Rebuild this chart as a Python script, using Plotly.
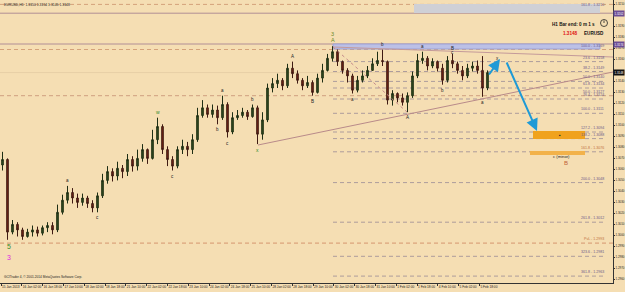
import plotly.graph_objects as go

# ---------------- data ----------------
first_open = 1.3064
close = [1.3069, 1.3003, 1.3010, 1.3005, 1.2999, 1.3003, 1.3005, 1.3002, 1.3007, 1.3009,
         1.3005, 1.3021, 1.3032, 1.3039, 1.3034, 1.3030, 1.3034, 1.3029, 1.3025, 1.3036,
         1.3050, 1.3058, 1.3054, 1.3061, 1.3058, 1.3069, 1.3063, 1.3070, 1.3078, 1.3070,
         1.3087, 1.3099, 1.3078, 1.3069, 1.3063, 1.3078, 1.3081, 1.3078, 1.3087, 1.3109,
         1.3116, 1.3110, 1.3114, 1.3107, 1.3119, 1.3094, 1.3107, 1.3109, 1.3112, 1.3108,
         1.3116, 1.3092, 1.3105, 1.3134, 1.3138, 1.3141, 1.3136, 1.3152, 1.3147, 1.3141,
         1.3136, 1.3139, 1.3130, 1.3143, 1.3150, 1.3161, 1.3167, 1.3158, 1.3150, 1.3145,
         1.3132, 1.3141, 1.3145, 1.3150, 1.3156, 1.3159, 1.3158, 1.3123, 1.3129, 1.3125,
         1.3121, 1.3127, 1.3145, 1.3159, 1.3161, 1.3154, 1.3158, 1.3152, 1.3141, 1.3159,
         1.3156, 1.3150, 1.3145, 1.3152, 1.3154, 1.3150, 1.3134, 1.3148]
high = [1.3076, 1.3070, 1.3014, 1.3012, 1.3007, 1.3006, 1.3009, 1.3008, 1.3009, 1.3012,
        1.3012, 1.3028, 1.3037, 1.3045, 1.3043, 1.3038, 1.3038, 1.3036, 1.3032, 1.3039,
        1.3056, 1.3063, 1.3061, 1.3067, 1.3064, 1.3074, 1.3072, 1.3078, 1.3083, 1.3079,
        1.3096, 1.3107, 1.3101, 1.3081, 1.3072, 1.3081, 1.3087, 1.3085, 1.3092, 1.3116,
        1.3123, 1.3119, 1.3119, 1.3118, 1.3127, 1.3121, 1.3112, 1.3114, 1.3116, 1.3114,
        1.3119, 1.3118, 1.3112, 1.3138, 1.3143, 1.3147, 1.3143, 1.3156, 1.3158, 1.3150,
        1.3143, 1.3145, 1.3141, 1.3147, 1.3156, 1.3165, 1.3172, 1.3169, 1.3159, 1.3152,
        1.3147, 1.3145, 1.3150, 1.3154, 1.3161, 1.3167, 1.3169, 1.3159, 1.3132, 1.3130,
        1.3129, 1.3130, 1.3149, 1.3165, 1.3167, 1.3163, 1.3161, 1.3159, 1.3156, 1.3163,
        1.3165, 1.3158, 1.3154, 1.3156, 1.3158, 1.3159, 1.3163, 1.3150]
low = [1.3059, 1.2996, 1.3001, 1.2999, 1.2996, 1.2998, 1.2999, 1.2999, 1.3000, 1.3003,
       1.3001, 1.3003, 1.3019, 1.3029, 1.3029, 1.3025, 1.3027, 1.3025, 1.3021, 1.3021,
       1.3034, 1.3047, 1.3049, 1.3050, 1.3052, 1.3054, 1.3058, 1.3059, 1.3067, 1.3065,
       1.3069, 1.3083, 1.3074, 1.3063, 1.3059, 1.3061, 1.3074, 1.3072, 1.3074, 1.3085,
       1.3107, 1.3107, 1.3107, 1.3101, 1.3105, 1.3089, 1.3092, 1.3105, 1.3107, 1.3105,
       1.3107, 1.3083, 1.3087, 1.3103, 1.3130, 1.3134, 1.3132, 1.3134, 1.3143, 1.3138,
       1.3132, 1.3134, 1.3127, 1.3129, 1.3139, 1.3149, 1.3158, 1.3154, 1.3147, 1.3139,
       1.3129, 1.3130, 1.3139, 1.3143, 1.3150, 1.3154, 1.3154, 1.3119, 1.3118, 1.3121,
       1.3118, 1.3112, 1.3125, 1.3143, 1.3156, 1.3150, 1.3152, 1.3149, 1.3137, 1.3139,
       1.3152, 1.3147, 1.3141, 1.3143, 1.3149, 1.3147, 1.3126, 1.3132]
open_ = [first_open] + close[:-1]
bars = list(range(len(close)))

time_labels = ["15 Jan 2013", "16 Jan 02:00", "16 Jan 18:00", "17 Jan 10:00", "18 Jan 02:00",
               "18 Jan 18:00", "21 Jan 10:00", "22 Jan 02:00", "22 Jan 18:00", "23 Jan 10:00",
               "24 Jan 02:00", "24 Jan 18:00", "25 Jan 10:00", "28 Jan 02:00", "28 Jan 18:00",
               "29 Jan 10:00", "30 Jan 02:00", "30 Jan 18:00", "31 Jan 10:00", "1 Feb 02:00",
               "1 Feb 18:00", "4 Feb 10:00", "5 Feb 02:00", "5 Feb 18:00"]

# price-axis tick labels (those hidden under the price boxes are left out)
price_ticks = [1.2960, 1.2970, 1.2980, 1.2990, 1.3000, 1.3010, 1.3020, 1.3030, 1.3040,
               1.3050, 1.3060, 1.3070, 1.3080, 1.3090, 1.3100, 1.3110, 1.3120, 1.3130,
               1.3140, 1.3160, 1.3170, 1.3180, 1.3190, 1.3210]

# full-width horizontal levels: (price, dash, colour, label)
full_levels = [(1.3210, "dash", "#d4a27a", "161.8 - 1.3210"),
               (1.3202, "solid", "#b08e96", ""),
               (1.3174, "solid", "#b08e96", ""),
               (1.3169, "dash", "#d4a27a", "100.0 - 1.3169"),
               (1.3127, "dash", "#cf9f7f", "50.0 - 1.3127"),
               (1.2993, "dash", "#d69670", "PvL - 1.2993")]
# fibonacci expansion levels drawn from the top "A"
fib_levels = [("23.6", 1.3158), ("38.2", 1.3149), ("50.0", 1.3140), ("61.8", 1.3134),
              ("76.4", 1.3124), ("100.0", 1.3111), ("127.2", 1.3094), ("138.2", 1.3088),
              ("161.8", 1.3076), ("200.0", 1.3048), ("261.8", 1.3012), ("323.6", 1.2981),
              ("361.8", 1.2963)]

bid = 1.3148
line_boxes = [1.3202, 1.3174]

# wave labels: (bar index, text, above?, colour, size)
waves = [(13, "a", True, "#222", 4.5), (19, "c", False, "#222", 4.5),
         (31, "w", True, "#2e8b2e", 5), (34, "c", False, "#222", 4.5),
         (43, "b", False, "#222", 4.5), (44, "a", True, "#222", 4.5),
         (45, "c", False, "#222", 4.5), (50, "b", True, "#222", 4.5),
         (51, "x", False, "#2e8b2e", 5), (58, "A", True, "#222", 4.5),
         (62, "B", False, "#222", 4.5), (66, "A", True, "#6a8a2a", 5.5),
         (70, "a", False, "#222", 4.5), (76, "b", True, "#222", 4.5),
         (81, "A", False, "#222", 4.5), (84, "a", True, "#222", 4.5),
         (88, "b", False, "#222", 4.5), (90, "B", True, "#222", 4.5),
         (96, "a", False, "#222", 4.5)]

# ---------------- helpers for layout positions ----------------
Y_TOP = 1.3214
def xp(px):
    return px / 5.0 - 0.5
def yp(py):
    return Y_TOP - py / 11000.0

BG = "#F5DEB3"
FONT = "Liberation Sans"

fig = go.Figure()
fig.add_trace(go.Candlestick(
    x=bars, open=open_, high=high, low=low, close=close,
    increasing=dict(line=dict(color="#1e2e14", width=1), fillcolor="#34501f"),
    decreasing=dict(line=dict(color="#3e1a12", width=1), fillcolor="#7a2414"),
    whiskerwidth=0, hoverinfo="skip"))

shapes = []
# shaded zones
shapes.append(dict(type="rect", xref="x", yref="y", x0=xp(414), x1=xp(600), y0=yp(13), y1=yp(4),
                   fillcolor="#cfd0d6", line=dict(width=0), layer="below"))
shapes.append(dict(type="rect", xref="x", yref="y", x0=xp(333), x1=xp(600), y0=yp(49), y1=yp(44),
                   fillcolor="#bcc0e6", line=dict(color="#9da2d6", width=1), layer="below"))
shapes.append(dict(type="rect", xref="x", yref="y", x0=xp(533), x1=xp(585), y0=yp(139), y1=yp(131),
                   fillcolor="#f0a21e", line=dict(width=0)))
shapes.append(dict(type="rect", xref="x", yref="y", x0=xp(530), x1=xp(585), y0=yp(155), y1=yp(151),
                   fillcolor="#f2b24a", line=dict(width=0)))
# bid line
shapes.append(dict(type="line", xref="paper", yref="y", x0=0, x1=1, y0=bid, y1=bid,
                   line=dict(color="#e7cfa6", width=1), layer="below"))
for price, dash, col, lab in full_levels:
    shapes.append(dict(type="line", xref="paper", yref="y", x0=0, x1=1, y0=price, y1=price,
                       line=dict(color=col, width=1, dash="4px,3px" if dash == "dash" else "solid"),
                       layer="below"))
for name, price in fib_levels:
    shapes.append(dict(type="line", xref="x", yref="y", x0=xp(333), x1=xp(606), y0=price, y1=price,
                       line=dict(color="#ad9c9c", width=1, dash="4px,3px"), layer="below"))
# trend lines
shapes.append(dict(type="line", xref="x", yref="y", x0=xp(258), y0=yp(145), x1=xp(613), y1=yp(72),
                   line=dict(color="#b88a8a", width=1)))
shapes.append(dict(type="line", xref="x", yref="y", x0=xp(333), y0=yp(47), x1=xp(613), y1=yp(57),
                   line=dict(color="#c49a9a", width=1)))
shapes.append(dict(type="line", xref="x", yref="y", x0=xp(333), y0=yp(47), x1=xp(407), y1=yp(112),
                   line=dict(color="#c48a8a", width=1, dash="dot")))
# clock icon
shapes.append(dict(type="circle", xref="x", yref="y", x0=xp(600.5), x1=xp(607.5), y0=yp(26.5), y1=yp(19.5),
                   line=dict(color="#222", width=0.8), fillcolor="rgba(0,0,0,0)"))
shapes.append(dict(type="line", xref="x", yref="y", x0=xp(604), x1=xp(604), y0=yp(23), y1=yp(20.5),
                   line=dict(color="#222", width=0.8)))
fig.update_layout(shapes=shapes)

ann = []
# level labels
for price, dash, col, lab in full_levels:
    if lab:
        top_one = price > 1.3205
        ann.append(dict(x=xp(606), y=price, xref="x", yref="y", text=lab, showarrow=False,
                        xanchor="right", yanchor="middle" if top_one else "bottom",
                        yshift=-1 if top_one else 0,
                        font=dict(size=3.6, color="#6a5a8a" if "PvL" not in lab else "#c07040", family=FONT)))
for name, price in fib_levels:
    ann.append(dict(x=xp(606), y=price, xref="x", yref="y", text=f"{name} - {price:.4f}", showarrow=False,
                    xanchor="right", yanchor="bottom",
                    font=dict(size=3.6, color="#c07040" if name == "161.8" else "#6a5a8a", family=FONT)))
# axis price boxes
for p in line_boxes:
    ann.append(dict(x=1.0, y=p, xref="paper", yref="y", text=f"{p:.4f}", showarrow=False, xanchor="left",
                    font=dict(size=2.9, color="white", family=FONT), bgcolor="#6b4d96", borderpad=0.5))
ann.append(dict(x=1.0, y=bid, xref="paper", yref="y", text=f"{bid:.4f}", showarrow=False, xanchor="left",
                font=dict(size=2.9, color="white", family=FONT), bgcolor="#111111", borderpad=0.5))
# wave labels
for i, t, above, col, sz in waves:
    ann.append(dict(x=bars[i], y=high[i] if above else low[i], xref="x", yref="y", text=t, showarrow=False,
                    yanchor="bottom" if above else "top", yshift=1 if above else -1,
                    font=dict(size=sz, color=col, family=FONT)))
ann.append(dict(x=bars[66], y=high[66], xref="x", yref="y", text="3", showarrow=False, yanchor="bottom",
                yshift=7, font=dict(size=5.5, color="#6a8a2a", family=FONT)))
ann.append(dict(x=bars[90], y=high[90], xref="x", yref="y", text="c", showarrow=False, yanchor="bottom",
                yshift=-3, font=dict(size=4.5, color="#222", family=FONT)))
ann.append(dict(x=bars[1], y=low[1], xref="x", yref="y", text="5", showarrow=False, yanchor="top",
                yshift=-1, xshift=1, font=dict(size=7, color="#3a8a2a", family=FONT)))
ann.append(dict(x=bars[1], y=low[1], xref="x", yref="y", text="3", showarrow=False, yanchor="top",
                yshift=-12, xshift=1, font=dict(size=7, color="#e02ae0", family=FONT)))
ann.append(dict(x=xp(497), y=yp(58), xref="x", yref="y", text="x", showarrow=False,
                font=dict(size=4.5, color="#222", family=FONT)))
ann.append(dict(x=xp(560), y=yp(135), xref="x", yref="y", text="\u25aa", showarrow=False,
                font=dict(size=5, color="#222", family=FONT)))
ann.append(dict(x=xp(561), y=yp(156), xref="x", yref="y", text="c (minor)", showarrow=False,
                font=dict(size=4.2, color="#222", family=FONT)))
ann.append(dict(x=xp(566), y=yp(162.5), xref="x", yref="y", text="B", showarrow=False,
                font=dict(size=6, color="#c0603a", family=FONT)))
# projection arrows
ann.append(dict(x=xp(500), y=yp(59), ax=xp(488), ay=yp(76), xref="x", yref="y", axref="x", ayref="y",
                text="", showarrow=True, arrowhead=2, arrowsize=1.2, arrowwidth=2, arrowcolor="#1e9ad6"))
ann.append(dict(x=xp(537), y=yp(131), ax=xp(506), ay=yp(61), xref="x", yref="y", axref="x", ayref="y",
                text="", showarrow=True, arrowhead=2, arrowsize=1.2, arrowwidth=2, arrowcolor="#1e9ad6"))
# info texts
ann.append(dict(x=xp(597), y=yp(24), xref="x", yref="y", text="<b>H1 Bar end: 0 m 1 s</b>", showarrow=False,
                xanchor="right", font=dict(size=4.6, color="#111", family=FONT)))
ann.append(dict(x=xp(579), y=yp(33), xref="x", yref="y", text="<b>1.3148</b>", showarrow=False,
                xanchor="right", font=dict(size=4.6, color="#e01010", family=FONT)))
ann.append(dict(x=xp(582), y=yp(33), xref="x", yref="y", text="<b>EURUSD</b>", showarrow=False,
                xanchor="left", font=dict(size=4.6, color="#111", family=FONT)))
ann.append(dict(x=0.003, y=1.0, xref="paper", yref="paper", text="EURUSD,H1  1.3150 1.3154 1.3145 1.3148",
                showarrow=False, xanchor="left", yanchor="top", yshift=-1,
                font=dict(size=3.4, color="#222", family=FONT)))
ann.append(dict(x=0.003, y=0.0, xref="paper", yref="paper",
                text="GCITrader 4, \u00a9 2001-2014 MetaQuotes Software Corp.",
                showarrow=False, xanchor="left", yanchor="bottom", yshift=2,
                font=dict(size=3.2, color="#222", family=FONT)))
fig.update_layout(annotations=ann)

fig.update_layout(
    width=625, height=292, margin=dict(l=0, r=12, t=0, b=9),
    paper_bgcolor=BG, plot_bgcolor=BG, showlegend=False, boxgap=0.55,
    xaxis=dict(range=[-0.5, 122.1], showgrid=False, zeroline=False, rangeslider=dict(visible=False),
               tickmode="array", tickvals=[4.16 * k - 0.3 for k in range(len(time_labels))],
               ticktext=time_labels, ticks="outside", ticklen=2, tickcolor="#333",
               tickangle=0, ticklabelposition="outside right", automargin=False,
               tickfont=dict(size=3.2, color="#222", family=FONT),
               showline=True, linecolor="#333", linewidth=1, mirror=False),
    yaxis=dict(range=[yp(283), Y_TOP], side="right", showgrid=False, zeroline=False,
               tickmode="array", tickvals=price_ticks, ticktext=[f"{v:.4f}" for v in price_ticks],
               ticks="outside", ticklen=1, tickcolor="#333",
               automargin=False, tickfont=dict(size=2.9, color="#222", family=FONT),
               showline=True, linecolor="#333", linewidth=1),
)

fig.write_html("out.html")
